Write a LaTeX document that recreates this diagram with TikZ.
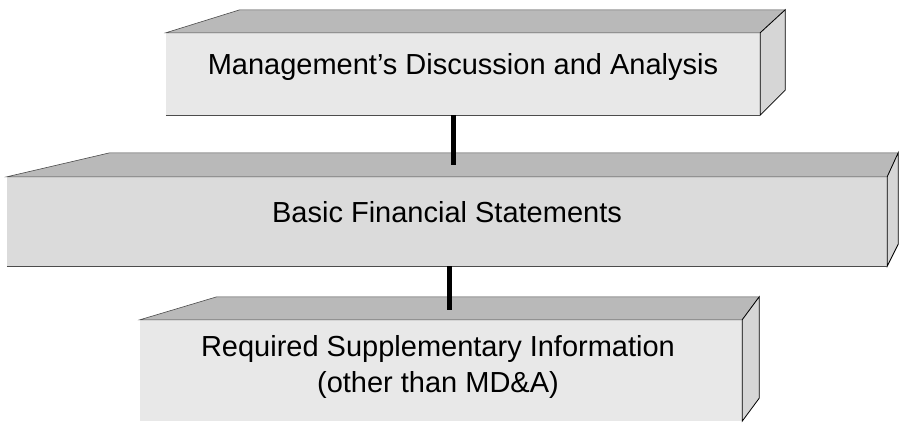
\documentclass[tikz,border=0pt]{standalone}
\usepackage{fontspec}
\setmainfont{Liberation Sans}

\begin{document}
\begin{tikzpicture}[x=1pt,y=-1pt]
  \tikzset{frontface/.style={rectangle, inner sep=0pt, fill=gray!18}};
  \tikzset{topface/.style={fill=gray!55, draw=gray!60!black, line width=0.6pt}};
  \tikzset{sideface/.style={fill=gray!32, draw=black, line width=0.8pt}};
  \tikzset{slabtext/.style={font=\fontsize{29}{36}\selectfont, inner sep=0pt, align=center}};
  \tikzset{myconn/.style={line width=5pt}};
  \useasboundingbox (0,0) rectangle (899,423);

  % upper slab
  \node[frontface, minimum width=594pt, minimum height=82pt] (mdaFront) at (463,74) {};
  \fill[topface] (mdaFront.north west) -- (mdaFront.north east) -- ([shift={(25,-23)}]mdaFront.north east)
    -- ([shift={(74,-23)}]mdaFront.north west) -- cycle;
  \fill[sideface] (mdaFront.north east) -- ([shift={(25,-23)}]mdaFront.north east)
    -- ([shift={(25,-25)}]mdaFront.south east) -- (mdaFront.south east) -- cycle;
  \draw[gray!60!black, line width=0.8pt] (mdaFront.south west) -- (mdaFront.south east);
  \node[slabtext, anchor=base] (mda) at (463,74) {Management's Discussion and Analysis};

  % middle slab
  \node[frontface, fill=gray!28, minimum width=880pt, minimum height=89pt] (bfsFront) at (447,221.5) {};
  \fill[topface] (bfsFront.north west) -- (bfsFront.north east) -- ([shift={(11,-24)}]bfsFront.north east)
    -- ([shift={(103,-24)}]bfsFront.north west) -- cycle;
  \fill[sideface] (bfsFront.north east) -- ([shift={(11,-24)}]bfsFront.north east)
    -- ([shift={(11,-22)}]bfsFront.south east) -- (bfsFront.south east) -- cycle;
  \draw[gray!60!black, line width=0.8pt] (bfsFront.south west) -- (bfsFront.south east);
  \node[slabtext, anchor=base] (bfs) at (447,222) {Basic Financial Statements};

  % lower slab
  \node[frontface, minimum width=602pt, minimum height=101pt] (rsiFront) at (441,370.5) {};
  \fill[topface] (rsiFront.north west) -- (rsiFront.north east) -- ([shift={(17,-23)}]rsiFront.north east)
    -- ([shift={(77,-23)}]rsiFront.north west) -- cycle;
  \fill[sideface] (rsiFront.north east) -- ([shift={(17,-23)}]rsiFront.north east)
    -- ([shift={(17,-23)}]rsiFront.south east) -- (rsiFront.south east) -- cycle;
  \node[slabtext, anchor=north] (rsi) at (438,335) {Required Supplementary Information\\(other than MD\&A)};

  % connectors
  \coordinate (bfsLand) at (453,165);
  \coordinate (rsiLand) at (449,310);
  \draw[myconn] (mdaFront.south -| bfsLand) -- (bfsLand);
  \draw[myconn] (bfsFront.south -| rsiLand) -- (rsiLand);
\end{tikzpicture}
\end{document}
